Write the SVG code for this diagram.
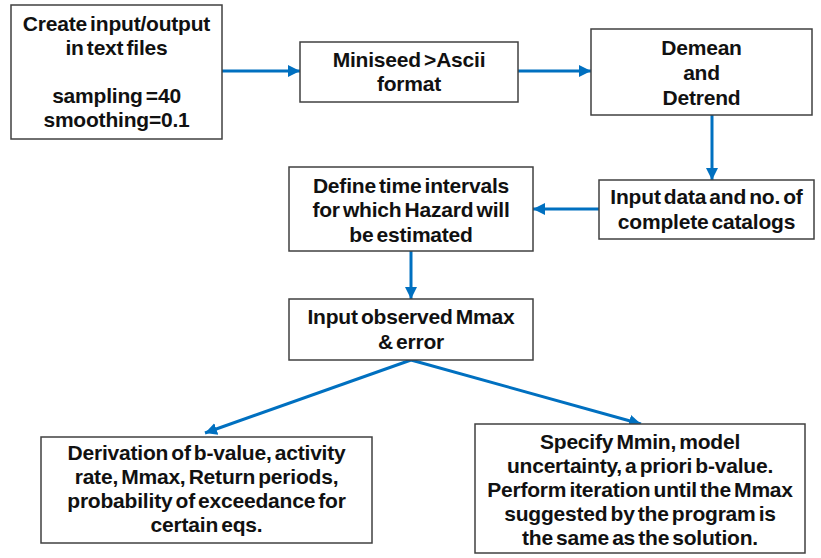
<svg xmlns="http://www.w3.org/2000/svg" width="821" height="558" viewBox="0 0 821 558">
<style>
.box{fill:#fff;stroke:#404040;stroke-width:1.5}
.t{font-family:"Liberation Sans",Arial,sans-serif;font-weight:bold;font-size:21px;fill:#111;text-anchor:middle;word-spacing:-2.5px;letter-spacing:-0.2px}
.c{stroke:#0070C0;stroke-width:3;fill:none;marker-end:url(#ah)}
</style>
<defs>
<marker id="ah" markerUnits="userSpaceOnUse" markerWidth="14" markerHeight="14" refX="12" refY="7" orient="auto">
<path d="M0,1 L12,7 L0,13 Z" fill="#0070C0"/>
</marker>
</defs>
<rect width="821" height="558" fill="#fff"/>
<g id="connectors">
<line class="c" x1="222" y1="71" x2="300" y2="71"/>
<line class="c" x1="518" y1="71" x2="591" y2="71"/>
<line class="c" x1="712" y1="115" x2="712" y2="180"/>
<line class="c" x1="599" y1="209" x2="533" y2="209"/>
<line class="c" x1="411" y1="251" x2="411" y2="299"/>
<line class="c" x1="411" y1="360" x2="205" y2="433"/>
<line class="c" x1="411" y1="360" x2="641" y2="424"/>
</g>
<g id="n1">
<rect class="box" x="11" y="5" width="211" height="134"/>
<text class="t" x="116.5" y="31">Create input/output</text>
<text class="t" x="116.5" y="55">in text files</text>
<text class="t" x="116.5" y="103">sampling =40</text>
<text class="t" x="116.5" y="127">smoothing=0.1</text>
</g>
<g id="n2">
<rect class="box" x="300" y="42" width="218" height="60"/>
<text class="t" x="409" y="67">Miniseed &gt;Ascii</text>
<text class="t" x="409" y="91">format</text>
</g>
<g id="n3">
<rect class="box" x="591" y="29" width="221" height="86"/>
<text class="t" x="701.5" y="55">Demean</text>
<text class="t" x="701.5" y="80">and</text>
<text class="t" x="701.5" y="105">Detrend</text>
</g>
<g id="n4">
<rect class="box" x="599" y="180" width="215" height="59"/>
<text class="t" x="706.5" y="204">Input data and no. of</text>
<text class="t" x="706.5" y="229">complete catalogs</text>
</g>
<g id="n5">
<rect class="box" x="289" y="167" width="244" height="84"/>
<text class="t" x="411" y="193">Define time intervals</text>
<text class="t" x="411" y="217">for which Hazard will</text>
<text class="t" x="411" y="242">be estimated</text>
</g>
<g id="n6">
<rect class="box" x="289" y="299" width="244" height="61"/>
<text class="t" x="411" y="324">Input observed Mmax</text>
<text class="t" x="411" y="349">&amp; error</text>
</g>
<g id="n7">
<rect class="box" x="41" y="437" width="331" height="106"/>
<text class="t" x="206.5" y="460">Derivation of b-value, activity</text>
<text class="t" x="206.5" y="484">rate, Mmax, Return periods,</text>
<text class="t" x="206.5" y="508">probability of exceedance for</text>
<text class="t" x="206.5" y="532">certain eqs.</text>
</g>
<g id="n8">
<rect class="box" x="475" y="424" width="330" height="129"/>
<text class="t" x="640" y="449">Specify Mmin, model</text>
<text class="t" x="640" y="473">uncertainty, a priori b-value.</text>
<text class="t" x="640" y="497">Perform iteration until the Mmax</text>
<text class="t" x="640" y="521">suggested by the program is</text>
<text class="t" x="640" y="545">the same as the solution.</text>
</g>
</svg>
